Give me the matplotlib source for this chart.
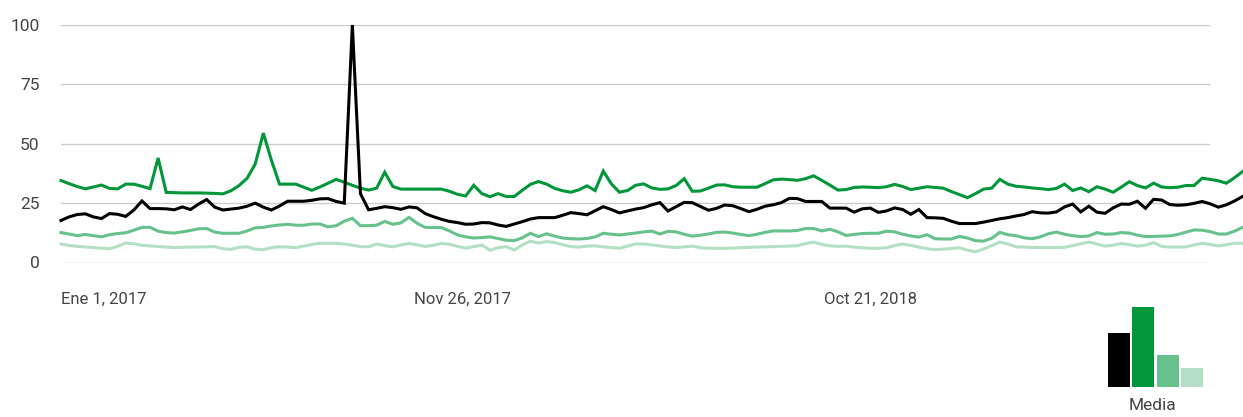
import numpy as np
import matplotlib
matplotlib.use("Agg")
import matplotlib.pyplot as plt

# ---------------- data ----------------
green = [34.5, 33.2, 32.0, 31.0, 31.8, 32.6, 31.2, 31.0, 33.0, 33.0,
         32.1, 31.1, 44.0, 29.5, 29.4, 29.3, 29.3, 29.3, 29.2, 29.1,
         28.9, 30.2, 32.4, 35.5, 41.5, 54.5, 43.0, 33.0, 33.0, 33.0,
         31.7, 30.4, 31.8, 33.4, 35.0, 33.8, 32.5, 31.3, 30.5, 31.3,
         38.0, 32.0, 30.9, 30.9, 30.9, 30.9, 30.9, 30.9, 30.0, 28.7,
         28.0, 32.5, 29.0, 27.7, 29.0, 27.8, 27.8, 30.4, 32.9, 34.1,
         33.0, 31.2, 30.2, 29.6, 30.6, 32.3, 30.3, 38.5, 33.1, 29.6,
         30.3, 32.5, 33.1, 31.4, 30.8, 31.0, 32.4, 35.3, 30.0, 30.1,
         31.3, 32.6, 32.7, 31.9, 31.7, 31.7, 31.7, 33.2, 34.8, 35.1,
         34.9, 34.6, 35.3, 36.5, 34.6, 32.6, 30.5, 30.7, 31.6, 31.8,
         31.7, 31.5, 31.9, 32.9, 32.0, 30.7, 31.3, 31.9, 31.6, 31.3,
         29.9, 28.6, 27.3, 29.0, 30.9, 31.3, 35.0, 33.0, 32.1, 31.8,
         31.4, 31.1, 30.7, 31.2, 33.0, 30.3, 31.4, 29.8, 31.9, 30.9,
         29.6, 31.7, 34.0, 32.4, 31.4, 33.4, 31.8, 31.5, 31.7, 32.4,
         32.4, 35.5, 35.0, 34.4, 33.4, 35.7, 38.3]

black = [17.7, 19.2, 20.2, 20.5, 19.2, 18.5, 20.6, 20.3, 19.4, 22.1,
         25.9, 22.7, 22.7, 22.6, 22.2, 23.4, 22.3, 24.6, 26.5, 23.3,
         22.1, 22.5, 22.9, 23.7, 25.0, 23.3, 22.1, 23.8, 25.8, 25.8,
         25.8, 26.2, 26.8, 26.9, 25.7, 25.0, 100.0, 29.0, 22.2, 22.8,
         23.5, 23.1, 22.4, 23.4, 23.0, 20.6, 19.3, 18.2, 17.3, 16.8,
         16.1, 16.2, 16.8, 16.7, 15.8, 15.2, 16.2, 17.2, 18.3, 18.9,
         18.9, 18.9, 19.9, 21.0, 20.6, 20.1, 21.8, 23.5, 22.3, 20.9,
         21.7, 22.5, 23.1, 24.3, 25.2, 21.7, 23.5, 25.3, 25.2, 23.6,
         22.0, 22.8, 24.2, 23.9, 22.7, 21.4, 22.4, 23.7, 24.3, 25.2,
         27.0, 26.9, 25.7, 25.7, 25.7, 22.9, 22.9, 22.9, 21.2, 22.6,
         22.9, 21.1, 21.7, 23.0, 22.3, 20.3, 22.3, 18.9, 18.8, 18.6,
         17.4, 16.4, 16.4, 16.4, 17.0, 17.7, 18.4, 18.9, 19.6, 20.2,
         21.4, 20.9, 20.8, 21.3, 23.4, 24.6, 21.3, 23.7, 21.2, 20.7,
         23.0, 24.6, 24.5, 25.8, 22.8, 26.6, 26.3, 24.4, 24.1, 24.3,
         24.9, 25.7, 24.7, 23.3, 24.3, 25.9, 27.8]

mid = [12.6, 12.0, 11.3, 11.8, 11.3, 10.8, 11.7, 12.2, 12.5, 13.6,
       14.8, 14.8, 13.2, 12.6, 12.4, 12.9, 13.5, 14.2, 14.3, 12.8,
       12.3, 12.3, 12.3, 13.3, 14.6, 14.8, 15.4, 15.8, 16.1, 15.7,
       15.7, 16.2, 16.2, 15.0, 15.5, 17.4, 18.6, 15.5, 15.5, 15.7,
       17.3, 16.1, 16.7, 19.0, 16.5, 14.8, 14.7, 14.7, 13.3, 11.6,
       10.8, 10.3, 10.5, 10.8, 10.1, 9.4, 9.2, 10.4, 12.3, 10.9,
       12.1, 11.1, 10.3, 10.0, 9.9, 10.1, 10.8, 12.3, 11.9, 11.6,
       12.0, 12.4, 12.9, 13.2, 12.0, 13.1, 12.9, 11.9, 11.1, 11.5,
       12.0, 12.7, 12.8, 12.4, 11.8, 11.3, 11.9, 12.7, 13.3, 13.3,
       13.3, 13.5, 14.3, 14.3, 13.3, 14.0, 12.9, 11.4, 11.8, 12.2,
       12.3, 12.3, 13.2, 12.9, 11.9, 11.2, 10.7, 11.7, 10.0, 9.9,
       9.9, 11.0, 10.3, 9.2, 9.0, 10.2, 12.7, 11.7, 11.3, 10.4,
       10.0, 10.8, 12.1, 12.8, 11.9, 11.3, 10.9, 11.2, 12.6, 11.9,
       12.0, 12.6, 12.4, 11.5, 10.9, 11.0, 11.1, 11.2, 11.8, 12.8,
       13.7, 13.6, 13.0, 12.0, 12.0, 13.2, 14.8]

light = [7.8, 7.2, 6.8, 6.5, 6.3, 6.0, 5.8, 6.8, 8.2, 7.9,
         7.2, 7.0, 6.7, 6.5, 6.3, 6.4, 6.5, 6.5, 6.6, 6.7,
         5.8, 5.5, 6.4, 6.6, 5.6, 5.4, 6.3, 6.6, 6.5, 6.3,
         6.9, 7.6, 8.1, 8.1, 8.1, 7.8, 7.3, 6.7, 6.6, 7.8,
         7.1, 6.6, 7.4, 8.0, 7.4, 6.8, 7.2, 8.0, 7.7, 6.8,
         6.0, 6.7, 7.3, 5.2, 6.2, 6.7, 5.3, 7.4, 9.0, 8.2,
         8.8, 8.4, 7.5, 6.7, 6.5, 6.9, 7.0, 6.6, 6.3, 6.0,
         6.9, 7.8, 7.8, 7.4, 7.0, 6.6, 6.3, 6.6, 6.9, 6.2,
         6.0, 6.0, 6.0, 6.1, 6.2, 6.4, 6.5, 6.6, 6.7, 6.8,
         6.9, 7.1, 8.0, 8.6, 7.6, 7.0, 6.8, 6.9, 6.5, 6.2,
         6.0, 6.0, 6.2, 7.1, 7.8, 7.2, 6.5, 5.8, 5.4, 5.6,
         5.9, 6.2, 5.2, 4.5, 5.7, 7.1, 8.6, 7.8, 6.6, 6.5,
         6.3, 6.3, 6.3, 6.3, 6.4, 7.1, 7.9, 8.6, 7.8, 6.9,
         7.3, 8.0, 7.5, 6.9, 7.3, 8.4, 6.8, 6.5, 6.5, 6.6,
         7.4, 8.1, 7.6, 7.0, 7.5, 8.1, 8.1]

tick_pos = [0, 43.6, 94.3]
tick_labels = ["Ene 1, 2017", "Nov 26, 2017", "Oct 21, 2018"]
y_ticks = [0, 25, 50, 75, 100]

media_values = [21.0, 31.0, 12.4, 7.4]
media_label = "Media"

colors = ["#000000", "#009639", "#66c18c", "#b3e0c4"]
text_color = "#444444"

# ---------------- figure ----------------
plt.rcParams['font.family'] = ['Roboto', 'DejaVu Sans']
W, H = 1243, 417
fig = plt.figure(figsize=(W / 100, H / 100), dpi=100)

x_left, x_right = 61, 1210
y_top, y_bot = 25, 262.5
ax = fig.add_axes([x_left / W, 1 - y_bot / H, (x_right - x_left) / W, (y_bot - y_top) / H])

weeks = np.arange(len(green))
step_px = (1242.6 - x_left) / (len(green) - 1)
ax.set_xlim(0, (x_right - x_left) / step_px)
ax.set_ylim(0, 100)

for series, c, z in [(light, colors[3], 3), (mid, colors[2], 4), (green, colors[1], 5), (black, colors[0], 6)]:
    ax.plot(weeks, series, color=c, lw=2.2, zorder=z, clip_on=False, solid_joinstyle='miter')

ax.set_yticks(y_ticks)
ax.set_yticklabels([str(v) for v in y_ticks])
ax.grid(axis='y', color='#cccccc', lw=1.0)
ax.set_axisbelow(True)
for s in ax.spines.values():
    s.set_visible(False)
ax.tick_params(axis='y', length=0, pad=15.5, labelsize=12.5, labelcolor=text_color)
ax.set_xticks(tick_pos)
ax.set_xticklabels(tick_labels)
ax.tick_params(axis='x', length=0, pad=21, labelsize=12, labelcolor=text_color)
for lbl in ax.get_xticklabels():
    lbl.set_horizontalalignment('left')

# ---------------- "Media" bars ----------------
bx0, bx1 = 1108, 1203
by_bot = 387
px_per_unit = (387 - 306.7) / max(media_values)
by_top = by_bot - max(media_values) * px_per_unit
bax = fig.add_axes([bx0 / W, 1 - by_bot / H, (bx1 - bx0) / W, (by_bot - by_top) / H])
bax.bar(np.arange(4), media_values, width=0.9, color=colors)
bax.set_xlim(-0.45, 3.45)
bax.set_ylim(0, max(media_values))
bax.axis('off')
fig.text(1152 / W, 1 - 405 / H, media_label, ha='center', va='center', fontsize=12.5, color=text_color)

fig.savefig("out.png", dpi=100)
